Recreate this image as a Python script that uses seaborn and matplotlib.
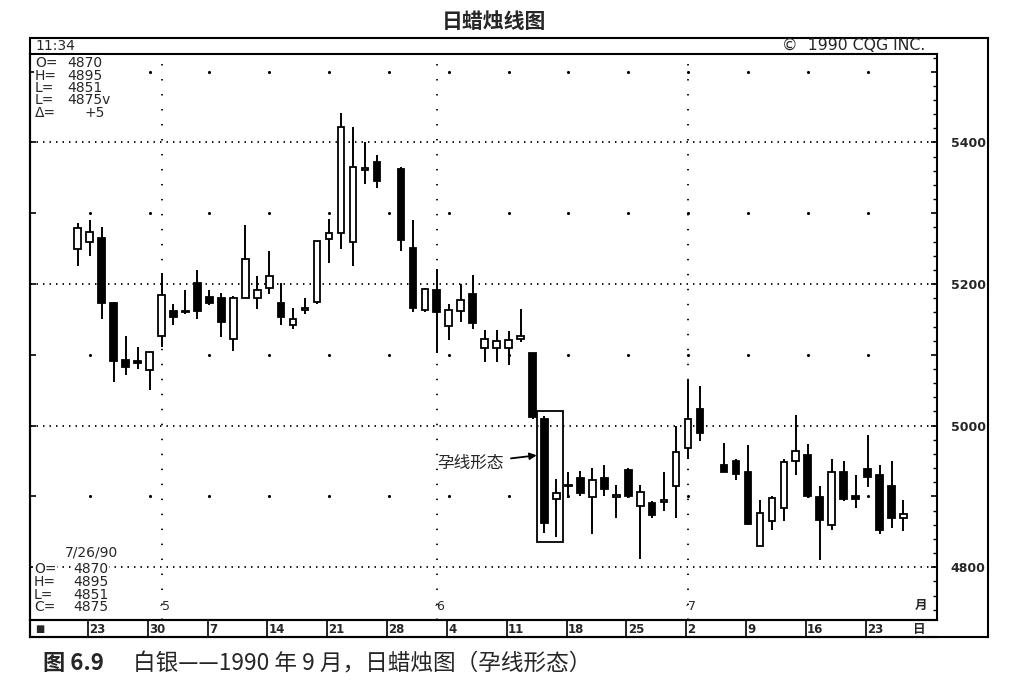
import numpy as np
import pandas as pd
import matplotlib
matplotlib.use("Agg")
import matplotlib.pyplot as plt
import seaborn as sns
from matplotlib.patches import Rectangle

# daily silver prices, 1990
dates = [
    "1990-04-20",
    "1990-04-23", "1990-04-24", "1990-04-25", "1990-04-26", "1990-04-27",
    "1990-04-30", "1990-05-01", "1990-05-02", "1990-05-03", "1990-05-04",
    "1990-05-07", "1990-05-08", "1990-05-09", "1990-05-10", "1990-05-11",
    "1990-05-14", "1990-05-15", "1990-05-16", "1990-05-17", "1990-05-18",
    "1990-05-21", "1990-05-22", "1990-05-23", "1990-05-24", "1990-05-25",
    "1990-05-29", "1990-05-30", "1990-05-31", "1990-06-01",
    "1990-06-04", "1990-06-05", "1990-06-06", "1990-06-07", "1990-06-08",
    "1990-06-11", "1990-06-12", "1990-06-13", "1990-06-14", "1990-06-15",
    "1990-06-18", "1990-06-19", "1990-06-20", "1990-06-21", "1990-06-22",
    "1990-06-25", "1990-06-26", "1990-06-27", "1990-06-28", "1990-06-29",
    "1990-07-02", "1990-07-03", "1990-07-05", "1990-07-06",
    "1990-07-09", "1990-07-10", "1990-07-11", "1990-07-12", "1990-07-13",
    "1990-07-16", "1990-07-17", "1990-07-18", "1990-07-19", "1990-07-20",
    "1990-07-23", "1990-07-24", "1990-07-25", "1990-07-26",
]
opens = [
    5249,
    5260, 5265, 5173, 5093, 5092,
    5079, 5127, 5162, 5160, 5201,
    5182, 5181, 5122, 5180, 5180,
    5194, 5173, 5142, 5163, 5174,
    5264, 5272, 5260, 5361, 5373,
    5362, 5251, 5164, 5191,
    5141, 5162, 5186, 5110, 5109,
    5110, 5123, 5102, 5010, 4896,
    4914, 4926, 4899, 4926, 4899,
    4937, 4886, 4891, 4892, 4915,
    4968, 5024, 4945, 4950,
    4935, 4830, 4865, 4884, 4950,
    4959, 4899, 4860, 4935, 4900,
    4939, 4930, 4915, 4870,
]
highs = [
    5286,
    5291, 5281, 5174, 5127, 5111,
    5104, 5216, 5172, 5191, 5220,
    5191, 5187, 5183, 5283, 5212,
    5247, 5201, 5166, 5181, 5261,
    5292, 5441, 5422, 5401, 5382,
    5366, 5290, 5195, 5221,
    5172, 5200, 5213, 5135, 5135,
    5133, 5165, 5102, 5014, 4924,
    4935, 4936, 4940, 4945, 4916,
    4940, 4916, 4894, 4935, 5000,
    5065, 5056, 4975, 4953,
    4973, 4895, 4900, 4953, 5015,
    4974, 4915, 4953, 4950, 4930,
    4987, 4944, 4950, 4895,
]
lows = [
    5225,
    5240, 5150, 5061, 5072, 5080,
    5050, 5111, 5142, 5157, 5150,
    5171, 5125, 5106, 5180, 5165,
    5186, 5142, 5136, 5157, 5172,
    5230, 5250, 5226, 5342, 5335,
    5247, 5161, 5161, 5102,
    5121, 5146, 5137, 5090, 5090,
    5086, 5118, 5009, 4848, 4843,
    4898, 4900, 4847, 4900, 4870,
    4898, 4812, 4870, 4880, 4870,
    4953, 4978, 4935, 4923,
    4860, 4830, 4853, 4865, 4930,
    4898, 4810, 4852, 4893, 4884,
    4913, 4847, 4856, 4851,
]
closes = [
    5279,
    5274, 5173, 5091, 5083, 5089,
    5104, 5184, 5154, 5162, 5162,
    5173, 5146, 5181, 5235, 5191,
    5211, 5153, 5150, 5165, 5261,
    5272, 5422, 5366, 5363, 5346,
    5262, 5166, 5193, 5160,
    5164, 5178, 5145, 5123, 5120,
    5121, 5126, 5012, 4862, 4905,
    4916, 4905, 4923, 4910, 4901,
    4900, 4906, 4874, 4894, 4963,
    5009, 4989, 4935, 4931,
    4861, 4877, 4898, 4948, 4964,
    4900, 4866, 4935, 4897, 4896,
    4928, 4853, 4870, 4875,
]

week_labels = ["23", "30", "7", "14", "21", "28", "4", "11", "18", "25", "2", "9", "16", "23"]
month_starts = ["1990-05-01", "1990-06-01", "1990-07-02"]
month_labels = ["5", "6", "7"]
price_ticks = [4800, 4900, 5000, 5100, 5200, 5300, 5400, 5500]
dot_levels = [4900, 5100, 5300, 5500]
harami_days = ["1990-06-14", "1990-06-15"]

W, H = 1022, 689
base_day = "1990-04-23"

df = pd.DataFrame({"date": dates, "open": opens, "high": highs,
                   "low": lows, "close": closes})
df["x"] = np.busday_count(base_day, df["date"].values.astype("datetime64[D]"))
df["up"] = df["close"] >= df["open"]

mondays = pd.date_range(base_day, periods=len(week_labels), freq="W-MON")
week_x = np.busday_count(base_day, mondays.values.astype("datetime64[D]")).astype(float)
month_x = np.busday_count(base_day, np.array(month_starts, dtype="datetime64[D]"))

sns.set_theme(style="white")
plt.rcParams["font.family"] = ["DejaVu Sans", "Noto Sans CJK SC"]
CJK = ["Noto Sans CJK SC", "DejaVu Sans"]
WHITE = dict(facecolor="white", edgecolor="none", pad=0.5)


def fbox(x0, y0, x1, y1):
    # pixel box -> figure fraction rect
    return [x0 / W, 1 - y1 / H, (x1 - x0) / W, (y1 - y0) / H]


def ftext(x, y, s, **kw):
    return fig.text(x / W, 1 - y / H, s, **kw)


fig = plt.figure(figsize=(W / 100, H / 100), dpi=100)

# outer frame
frame = fig.add_axes(fbox(30, 38, 988, 637))
frame.set_xticks([])
frame.set_yticks([])
frame.patch.set_alpha(0)
for s in frame.spines.values():
    s.set_linewidth(1.5)
    s.set_color("black")

ax = fig.add_axes(fbox(30, 54, 937, 620))
ax.patch.set_alpha(0)
xlim = (-4.99, 70.8)
ax.set_xlim(*xlim)
ax.set_ylim(4725.4, 5525)
for s in ax.spines.values():
    s.set_linewidth(1.5)
    s.set_color("black")

# grid: dotted price lines, dotted month lines, dot matrix
for p in price_ticks:
    if p % 200 == 0:
        ax.axhline(p, color="black", lw=1.3, ls=(0, (0.8, 2.8)), zorder=1)
for mx in month_x:
    ax.axvline(mx, color="black", lw=1.3, ls=(0, (0.8, 7.5)), zorder=1)
gx, gy = np.meshgrid(week_x, dot_levels)
dots = pd.DataFrame({"x": gx.ravel(), "y": gy.ravel()})
sns.scatterplot(data=dots, x="x", y="y", ax=ax, s=5, color="black",
                linewidth=0, zorder=1, legend=False)
ax.set_xlabel("")
ax.set_ylabel("")

# candles
ax.vlines(df["x"], df["low"], df["high"], color="black", lw=1.4, zorder=2)
body_lo = np.minimum(df["open"], df["close"])
body_h = np.maximum((df["close"] - df["open"]).abs(), 2.5)
ax.bar(df["x"], body_h, bottom=body_lo, width=0.55,
       color=np.where(df["up"], "white", "black"), edgecolor="black",
       linewidth=1.3, zorder=3)

# harami box + note
hd = df[df["date"].isin(harami_days)]
bx0 = hd["x"].min() - 0.65
bx1 = hd["x"].max() + 0.55
by0 = hd["low"].min() - 8
by1 = hd["high"].max() + 6
ax.add_patch(Rectangle((bx0, by0), bx1 - bx0, by1 - by0, fill=False,
                       edgecolor="black", lw=1.3, zorder=4))
ax.annotate("孕线形态", xy=(bx0, 4958), xytext=(31.8, 4947),
            ha="center", va="center", fontsize=12, family=CJK,
            arrowprops=dict(arrowstyle="-|>", color="black", lw=1.3,
                            shrinkA=3, shrinkB=0, mutation_scale=10))

# y axis on the right
ax.set_yticks(price_ticks)
ax.set_yticks(np.arange(4740, 5525, 20), minor=True)
ax.yaxis.tick_right()
ax.set_yticklabels([str(p) if p % 200 == 0 else "" for p in price_ticks],
                   fontsize=9, fontweight="bold")
ax.tick_params(axis="y", which="major", right=True, left=True, direction="in",
               length=4, width=1.2, color="black", pad=10)
ax.tick_params(axis="y", which="minor", right=True, left=False, direction="in",
               length=3, width=1.0, color="black")
ax.set_xticks([])

# month markers
for mx, lab in zip(month_x, month_labels):
    ax.text(mx - 0.25, 4744, "·" + lab, ha="left", va="center", fontsize=9)
ax.text(69.5, 4746, "月", ha="center", va="center", fontsize=9,
        fontweight="bold", family=CJK)

# date row
dax = fig.add_axes(fbox(30, 620, 937, 637))
dax.set_xlim(*xlim)
dax.set_ylim(0, 1)
dax.set_xticks([])
dax.set_yticks([])
dax.patch.set_alpha(0)
for k, s in dax.spines.items():
    s.set_linewidth(1.5)
    s.set_color("black")
dax.spines["right"].set_visible(False)
dax.vlines(week_x - 0.15, 0, 1, color="black", lw=1.2)
for wx, lab in zip(week_x, week_labels):
    dax.text(wx - 0.05, 0.45, lab, ha="left", va="center", fontsize=8.5,
             fontweight="bold")
dax.text(-4.15, 0.45, "■", ha="center", va="center", fontsize=7)
dax.text(69.2, 0.45, "日", ha="center", va="center", fontsize=9,
         fontweight="bold", family=CJK)

# header row
ftext(35, 46, "11:34", ha="left", va="center", fontsize=10)
ftext(782, 46, "©  1990 CQG INC.", ha="left", va="center", fontsize=11.3)

# quote readouts
top_rows = [("O=", "4870", 67), ("H=", "4895", 67), ("L=", "4851", 67),
            ("L=", "4875v", 67), ("Δ=", "+5", 84)]
for i, (k, v, vx) in enumerate(top_rows):
    y = 63 + i * 12.5
    ftext(35, y, k, ha="left", va="center", fontsize=10, bbox=WHITE)
    ftext(vx, y, v, ha="left", va="center", fontsize=10, bbox=WHITE)
ftext(65, 552, "7/26/90", ha="left", va="center", fontsize=10, bbox=WHITE)
bot_rows = [("O=", "4870"), ("H=", "4895"), ("L=", "4851"), ("C=", "4875")]
for i, (k, v) in enumerate(bot_rows):
    y = 569 + i * 12.8
    ftext(34, y, k, ha="left", va="center", fontsize=10, bbox=WHITE)
    ftext(73, y, v, ha="left", va="center", fontsize=10, bbox=WHITE)

# titles
ftext(494, 21, "日蜡烛线图", ha="center", va="center", fontsize=15,
      fontweight="bold", family=CJK)
ftext(43, 664, "图 6.9", ha="left", va="center", fontsize=16,
      fontweight="bold", family=CJK)
ftext(133, 664, "白银——1990 年 9 月，日蜡烛图（孕线形态）", ha="left",
      va="center", fontsize=16.3, family=CJK)

fig.savefig("out.png", dpi=100)
